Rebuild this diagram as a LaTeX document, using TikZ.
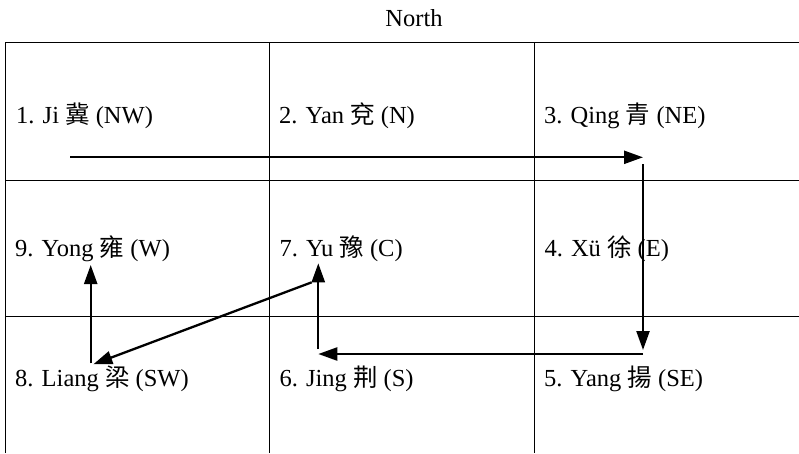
\documentclass[tikz,border=0pt]{standalone}
\usepackage{fontspec}
\setmainfont{Liberation Serif}
\newfontfamily\cjk{Noto Sans CJK TC}
\usetikzlibrary{arrows.meta}
\tikzset{
  grid/.style={line width=1pt, black},
  lbl/.style={anchor=base west, inner sep=0pt, font=\fontsize{24.5}{28}\selectfont},
  route/.style={line width=2.3pt, -{Triangle[length=19pt,width=13pt]}}
}
\begin{document}
\begin{tikzpicture}[x=1pt,y=-1pt]
\useasboundingbox (0,0) rectangle (799,453);
% grid
\draw[grid] (5,453) -- (5,42.7) -- (799,42.7);
\draw[grid] (269.5,42.7) -- (269.5,453);
\draw[grid] (534,42.7) -- (534,453);
\draw[grid] (5,180) -- (799,180);
\draw[grid] (5,316.7) -- (799,316.7);
% title
\node[anchor=base, inner sep=0pt, font=\fontsize{24.5}{28}\selectfont] (north) at (414,26.7) {North};
% labels
\node[lbl] (c1) at (16,123.3) {1. Ji {\cjk 冀} (NW)};
\node[lbl] (c2) at (279,123.3) {2. Yan {\cjk 兗} (N)};
\node[lbl] (c3) at (544,123.3) {3. Qing {\cjk 青} (NE)};
\node[lbl] (c9) at (15,256.7) {9. Yong {\cjk 雍} (W)};
\node[lbl] (c7) at (279.3,256.7) {7. Yu {\cjk 豫} (C)};
\node[lbl] (c4) at (544.3,256.7) {4. Xü {\cjk 徐} (E)};
\node[lbl] (c8) at (15,386.7) {8. Liang {\cjk 梁} (SW)};
\node[lbl] (c6) at (279.3,386.7) {6. Jing {\cjk 荆} (S)};
\node[lbl] (c5) at (544,386.7) {5. Yang {\cjk 揚} (SE)};
% route coordinates
\coordinate (p1s) at (70,157.3);
\coordinate (p1e) at (643,157.3);
\coordinate (p2s) at (643,164.3);
\coordinate (p2e) at (643,350);
\coordinate (p3s) at (643,354);
\coordinate (p3e) at (318.3,354);
\coordinate (p4s) at (318.3,349);
\coordinate (p4e) at (318.3,263.3);
\coordinate (p5s) at (311.7,282.3);
\coordinate (p5e) at (93.3,364.3);
\coordinate (p6s) at (90.7,363.3);
\coordinate (p6e) at (90.7,265);
\draw[route] (p1s) -- (p1e);
\draw[route] (p2s) -- (p2e);
\draw[route] (p3s) -- (p3e);
\draw[route] (p4s) -- (p4e);
\draw[route] (p5s) -- (p5e);
\draw[route] (p6s) -- (p6e);
\end{tikzpicture}
\end{document}
